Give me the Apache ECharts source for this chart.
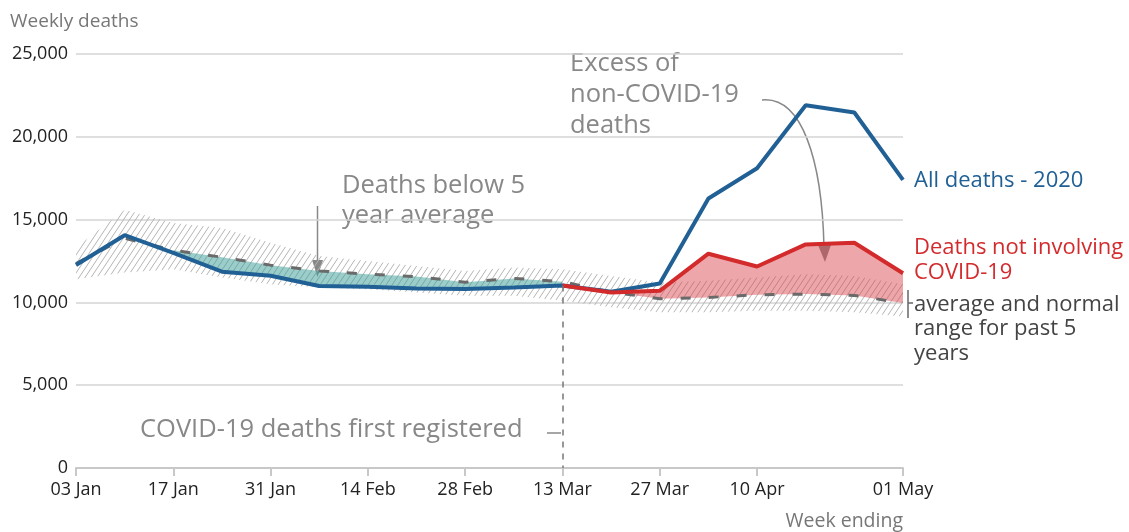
<!DOCTYPE html>
<html>
<head>
<meta charset="utf-8">
<script src="https://cdn.jsdelivr.net/npm/echarts@6/dist/echarts.min.js"></script>
<style>
html,body{margin:0;padding:0;background:#fff}
#chart{width:1129px;height:532px}
</style>
</head>
<body>
<div id="chart"></div>
<script>
// weekly deaths, week ending
var weeks = ['03 Jan','10 Jan','17 Jan','24 Jan','31 Jan','07 Feb','14 Feb','21 Feb','28 Feb','06 Mar',
             '13 Mar','20 Mar','27 Mar','03 Apr','10 Apr','17 Apr','24 Apr','01 May'];
var allDeaths = [12254,14058,12990,11856,11612,10986,10944,10841,10816,10895,
                 11019,10645,11141,16270,18100,21900,21470,17400];
var nonCovid  = [null,null,null,null,null,null,null,null,null,null,
                 11019,10600,10700,12940,12170,13500,13600,11760];
var avg5      = [12350,13870,13150,12730,12250,11900,11700,11560,11220,11450,
                 11250,10620,10220,10300,10460,10500,10420,9960];
var rangeLow  = [11400,11800,12000,11500,11100,10900,10800,10600,10400,10400,
                 10100,9700,9400,9400,9500,9500,9400,9150];
var rangeHigh = [13300,15600,14800,14500,13600,12800,12500,12200,11900,12100,
                 12000,11600,11200,11300,11500,11700,11600,11100];
var labelIdx = [0,2,4,6,8,10,12,14,17];

var FONT = '"Open Sans", sans-serif';

//斜线填充
function hatch() {
    var c = document.createElement('canvas');
    c.width = 6; c.height = 9;
    var ctx = c.getContext('2d');
    ctx.strokeStyle = '#b4b4b4';
    ctx.lineWidth = 1;
    ctx.beginPath();
    ctx.moveTo(0, 9); ctx.lineTo(6, 0);
    ctx.moveTo(-1, 1.5); ctx.lineTo(1, -1.5);
    ctx.moveTo(5, 10.5); ctx.lineTo(7, 7.5);
    ctx.stroke();
    return c;
}

var bandSpan = rangeHigh.map(function (v, i) { return v - rangeLow[i]; });
var greenBase = allDeaths.map(function (v, i) { return (i >= 2 && i <= 10) ? v : null; });
var greenSpan = allDeaths.map(function (v, i) { return (i >= 2 && i <= 10) ? Math.max(avg5[i] - v, 0) : null; });
var redBase = avg5.map(function (v, i) { return i >= 10 ? v : null; });
var redSpan = nonCovid.map(function (v, i) { return i >= 10 ? Math.max(v - avg5[i], 0) : null; });

function helper(name, data, stack, area) {
    var s = {
        name: name, type: 'line', data: data, stack: stack,
        symbol: 'none', silent: true,
        lineStyle: { width: 0, opacity: 0 }
    };
    if (area) s.areaStyle = area;
    return s;
}

var myChart = echarts.init(document.getElementById('chart'));
var option = {
    animation: false,
    grid: { left: 76, right: 226, top: 54, bottom: 64 },
    xAxis: {
        type: 'category',
        data: weeks,
        boundaryGap: false,
        axisLine: { lineStyle: { color: '#c8c8c8', width: 2 } },
        axisTick: {
            length: 8,
            lineStyle: { color: '#c8c8c8', width: 2 },
            interval: function (i) { return labelIdx.indexOf(i) >= 0; }
        },
        axisLabel: {
            color: '#222', fontSize: 18, fontFamily: FONT, margin: 13,
            interval: function (i) { return labelIdx.indexOf(i) >= 0; }
        }
    },
    yAxis: {
        type: 'value',
        min: 0, max: 25000, interval: 5000,
        axisLine: { show: false },
        axisTick: { show: false },
        axisLabel: {
            color: '#222', fontSize: 18, fontFamily: FONT, margin: 8,
            formatter: function (v) { return v.toLocaleString('en-GB'); }
        },
        splitLine: { lineStyle: { color: '#d4d4d4', width: 1.5 } }
    },
    series: [
        helper('rangeLow', rangeLow, 'band'),
        helper('range', bandSpan, 'band', { color: { image: hatch(), repeat: 'repeat' }, opacity: 1 }),
        helper('greenBase', greenBase, 'green'),
        helper('below', greenSpan, 'green', { color: 'rgba(58,158,153,0.72)' }),
        helper('redBase', redBase, 'red'),
        helper('excess', redSpan, 'red', { color: 'rgba(218,70,76,0.68)' }),
        {
            name: 'average', type: 'line', data: avg5, symbol: 'none', silent: true,
            lineStyle: { color: '#6a6a6a', width: 3, type: [10, 18] }
        },
        {
            name: 'All deaths - 2020', type: 'line', data: allDeaths, symbol: 'none', silent: true,
            lineStyle: { color: '#206095', width: 4 }
        },
        {
            name: 'Deaths not involving COVID-19', type: 'line', data: nonCovid, symbol: 'none', silent: true,
            lineStyle: { color: '#d32a2c', width: 4 },
            markLine: {
                silent: true,
                symbol: ['none', 'none'],
                label: { show: false },
                lineStyle: { color: '#777', width: 1.5, type: [6, 6] },
                data: [[{ coord: ['13 Mar', 11019] }, { coord: ['13 Mar', 0] }]]
            }
        }
    ],
    graphic: [
        { type: 'text', x: 10, y: 22, style: { text: 'Weekly deaths', fill: '#777', font: '19px ' + FONT, textVerticalAlign: 'middle' } },
        { type: 'text', x: 903, y: 521, style: { text: 'Week ending', fill: '#777', font: '19.5px ' + FONT, textAlign: 'right', textVerticalAlign: 'middle' } },
        // annotations
        { type: 'text', x: 570, y: 48, style: { text: 'Excess of\nnon-COVID-19\ndeaths', fill: '#888', font: '25.5px ' + FONT, lineHeight: 31, textVerticalAlign: 'top' } },
        { type: 'bezierCurve', shape: { x1: 762, y1: 100, cpx1: 802, cpy1: 96, cpx2: 822, cpy2: 160, x2: 824, y2: 247 },
          style: { stroke: '#888', lineWidth: 1.5, fill: null } },
        { type: 'polygon', shape: { points: [[818, 245], [831, 245], [825, 262]] }, style: { fill: '#888' } },
        { type: 'text', x: 342, y: 171, style: { text: 'Deaths below 5\nyear average', fill: '#888', font: '25.5px ' + FONT, lineHeight: 30, textVerticalAlign: 'top' } },
        { type: 'line', shape: { x1: 317.5, y1: 206, x2: 317.5, y2: 262 }, style: { stroke: '#888', lineWidth: 1.5 } },
        { type: 'polygon', shape: { points: [[312, 260], [323, 260], [317.5, 277]] }, style: { fill: '#888' } },
        { type: 'text', x: 140, y: 430, style: { text: 'COVID-19 deaths first registered', fill: '#888', font: '25.5px ' + FONT, textVerticalAlign: 'middle' } },
        { type: 'line', shape: { x1: 547, y1: 433, x2: 561, y2: 433 }, style: { stroke: '#888', lineWidth: 1.5 } },
        // series labels
        { type: 'text', x: 914, y: 181, style: { text: 'All deaths - 2020', fill: '#206095', font: '22px ' + FONT, textVerticalAlign: 'middle' } },
        { type: 'text', x: 914, y: 235, style: { text: 'Deaths not involving\nCOVID-19', fill: '#d32a2c', font: '22px ' + FONT, lineHeight: 25, textVerticalAlign: 'top' } },
        { type: 'text', x: 914, y: 292, style: { text: 'average and normal\nrange for past 5\nyears', fill: '#444', font: '22px ' + FONT, lineHeight: 24.5, textVerticalAlign: 'top' } },
        { type: 'line', shape: { x1: 908, y1: 290, x2: 908, y2: 318 }, style: { stroke: '#666', lineWidth: 1.5 } },
        { type: 'line', shape: { x1: 908, y1: 303, x2: 913, y2: 303 }, style: { stroke: '#666', lineWidth: 1.5 } }
    ]
};
myChart.setOption(option);
</script>
</body>
</html>
